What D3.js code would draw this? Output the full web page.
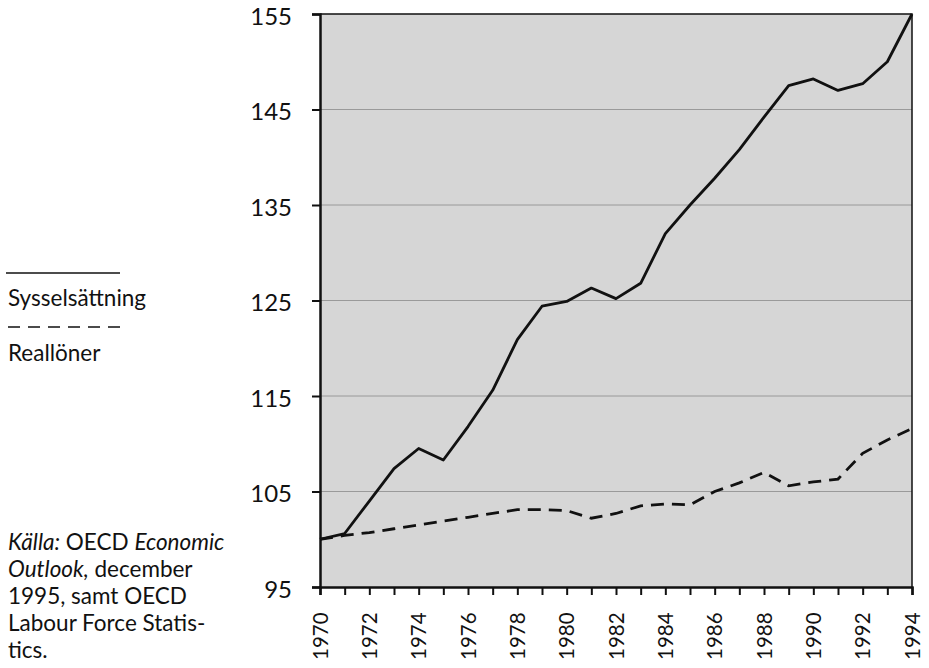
<!DOCTYPE html>
<html>
<head>
<meta charset="utf-8">
<script src="https://cdn.jsdelivr.net/npm/d3@7"></script>
<style>
  html, body { margin: 0; padding: 0; background: #fff; }
  svg { display: block; }
  text { font-family: Lato, "Open Sans", sans-serif; fill: #111; }
</style>
</head>
<body>
<svg id="chart" width="929" height="668"></svg>
<script>
const years = d3.range(1970, 1995);
const sysselsattning = [100.0, 100.6, 104.0, 107.4, 109.5, 108.3, 111.8, 115.6, 120.9, 124.4, 124.9, 126.3, 125.2, 126.8, 132.0, 135.0, 137.8, 140.8, 144.2, 147.5, 148.2, 147.0, 147.7, 150.0, 155.0];
const reallonor = [100.0, 100.4, 100.7, 101.1, 101.5, 101.9, 102.3, 102.7, 103.1, 103.1, 103.0, 102.2, 102.7, 103.5, 103.7, 103.6, 105.0, 105.9, 107.0, 105.6, 106.0, 106.3, 109.0, 110.4, 111.6];
const yTicks = [95, 105, 115, 125, 135, 145, 155];
const xLabelYears = [1970, 1972, 1974, 1976, 1978, 1980, 1982, 1984, 1986, 1988, 1990, 1992, 1994];
const legendLabels = ["Sysselsättning", "Reallöner"];

(function () {
const svg = d3.select("#chart");
const mLeft = 320, mRight = 912, mTop = 14, mBottom = 587;

const x = d3.scaleLinear().domain([1970, 1994]).range([mLeft, mRight]);
const y = d3.scaleLinear().domain([95, 155]).range([mBottom, mTop]);

// plot background
svg.append("rect").attr("x", mLeft).attr("y", mTop)
  .attr("width", mRight - mLeft).attr("height", mBottom - mTop)
  .attr("fill", "#d6d6d6");

// gridlines
svg.append("g").selectAll("line").data(yTicks.filter(d => d > 95 && d < 155))
  .join("line")
  .attr("x1", mLeft).attr("x2", mRight)
  .attr("y1", d => y(d)).attr("y2", d => y(d))
  .attr("stroke", "#8a8a8a").attr("stroke-width", 0.8);

// frame top & right
svg.append("path")
  .attr("d", `M${mLeft},${mTop}H${mRight}V${mBottom}`)
  .attr("fill", "none").attr("stroke", "#111").attr("stroke-width", 1.5);

// y axis
const yAxis = d3.axisLeft(y).tickValues(yTicks).tickSize(8).tickPadding(20).tickFormat(d3.format("d"));
const gy = svg.append("g").attr("transform", `translate(${mLeft},0)`).call(yAxis);
gy.select(".domain").attr("stroke", "#111").attr("stroke-width", 2.5);
gy.selectAll(".tick line").attr("stroke", "#111").attr("stroke-width", 2);
gy.selectAll(".tick text").attr("font-size", 24).attr("font-family", "Lato, sans-serif")
  .attr("fill", "#111").attr("dy", "0.42em");

// x axis
const xAxis = d3.axisBottom(x).tickValues(years).tickSize(8).tickFormat("");
const gx = svg.append("g").attr("transform", `translate(0,${mBottom})`).call(xAxis);
gx.select(".domain").attr("stroke", "#111").attr("stroke-width", 2.5);
gx.selectAll(".tick line").attr("stroke", "#111").attr("stroke-width", 2);

// x labels rotated
svg.append("g").selectAll("text").data(xLabelYears).join("text")
  .attr("transform", d => `translate(${x(d) + 7.5},660) rotate(-90)`)
  .attr("text-anchor", "start")
  .attr("font-size", 20.5)
  .text(d => d);

// lines
const line = d3.line().x((d, i) => x(years[i])).y(d => y(d));
svg.append("path").datum(sysselsattning).attr("d", line)
  .attr("fill", "none").attr("stroke", "#111").attr("stroke-width", 2.8)
  .attr("stroke-linejoin", "round");
svg.append("path").datum(reallonor).attr("d", line)
  .attr("fill", "none").attr("stroke", "#111").attr("stroke-width", 2.8)
  .attr("stroke-dasharray", "13,8");

// legend
const lg = svg.append("g");
lg.append("line").attr("x1", 6).attr("x2", 120).attr("y1", 273).attr("y2", 273)
  .attr("stroke", "#111").attr("stroke-width", 1.5);
lg.append("text").attr("x", 8).attr("y", 306).attr("font-size", 22.5).text(legendLabels[0]);
lg.append("line").attr("x1", 8).attr("x2", 120).attr("y1", 327).attr("y2", 327)
  .attr("stroke", "#111").attr("stroke-width", 1.5).attr("stroke-dasharray", "12,8");
lg.append("text").attr("x", 8).attr("y", 361).attr("font-size", 22.5).text(legendLabels[1]);

// source
const src = svg.append("text").attr("x", 8).attr("font-size", 22.5);
const srcLines = [
  [["Källa:", true], [" OECD ", false], ["Economic", true]],
  [["Outlook,", true], [" december", false]],
  [["1995, samt OECD", false]],
  [["Labour Force Statis-", false]],
  [["tics.", false]]
];
srcLines.forEach((ln, i) => {
  ln.forEach((seg, j) => {
    const t = src.append("tspan").text(seg[0]).attr("font-style", seg[1] ? "italic" : "normal");
    if (j === 0) t.attr("x", 8).attr("y", 550 + i * 27);
  });
});
})();
</script>
</body>
</html>
